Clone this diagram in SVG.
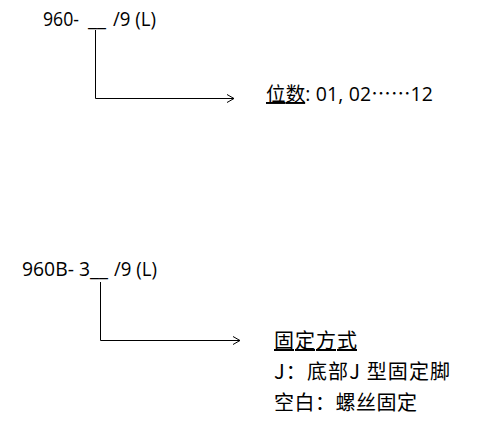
<svg xmlns="http://www.w3.org/2000/svg" width="481" height="438" viewBox="0 0 481 438">
<style>
.t{font-family:"Open Sans","Noto Sans CJK SC",sans-serif;font-size:19.5px;fill:#000}
.c{font-family:"Noto Sans CJK SC",sans-serif;font-size:20px;fill:#000}
.e{font-family:"Noto Sans CJK SC",sans-serif}
.ln{stroke:#000;stroke-width:1;fill:none}
</style>
<defs>
<marker id="ah" markerWidth="10" markerHeight="10" refX="8" refY="5" orient="auto" markerUnits="userSpaceOnUse">
<path d="M1,1 L8,5 L1,9" fill="none" stroke="#000" stroke-width="1"/>
</marker>
</defs>
<rect width="481" height="438" fill="#fff"/>
<g id="code1"><text class="t" y="26"><tspan x="43" textLength="36" lengthAdjust="spacingAndGlyphs">960-</tspan> <tspan x="88" textLength="18" lengthAdjust="spacingAndGlyphs">__</tspan> <tspan x="113" textLength="43" lengthAdjust="spacingAndGlyphs">/9 (L)</tspan></text></g>
<g id="label1"><text class="t" x="266" y="101" textLength="167"><tspan text-decoration="underline">位数</tspan>: 01, 02<tspan class="e">……</tspan>12</text></g>
<g id="code2"><text class="t" y="276"><tspan x="22" textLength="68" lengthAdjust="spacingAndGlyphs">960B- 3</tspan><tspan x="90" textLength="18" lengthAdjust="spacingAndGlyphs">__</tspan> <tspan x="114" textLength="43" lengthAdjust="spacingAndGlyphs">/9 (L)</tspan></text></g>
<g id="label2">
<text class="c" x="274" y="348" text-decoration="underline" textLength="83">固定方式</text>
<text class="c" x="274" y="379" textLength="176">J：底部J 型固定脚</text>
<text class="c" x="274" y="410" textLength="143">空白：螺丝固定</text>
</g>
<g id="connectors">
<polyline class="ln" points="95.5,30 95.5,98.5 234,98.5" marker-end="url(#ah)"/>
<polyline class="ln" points="100.5,282 100.5,340.5 240,340.5" marker-end="url(#ah)"/>
</g>
</svg>
